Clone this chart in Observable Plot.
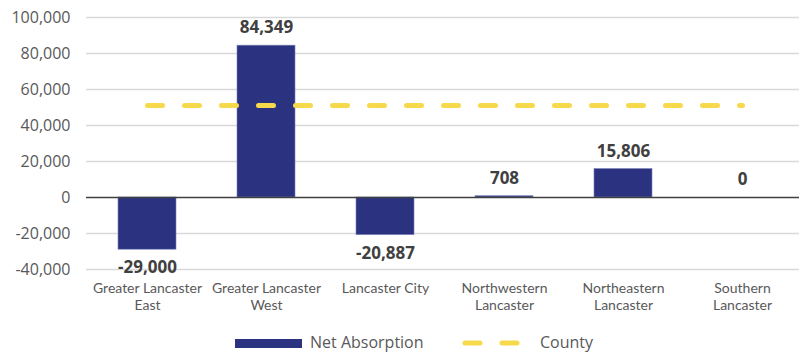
<!DOCTYPE html>
<html><head><meta charset="utf-8">
<script src="https://cdn.jsdelivr.net/npm/d3@7"></script>
<script src="https://cdn.jsdelivr.net/npm/@observablehq/plot@0.6"></script>
<style>
body{margin:0;background:#fff;font-family:"Open Sans",sans-serif;overflow:hidden;}
#chart svg{display:block;}
#legend{position:relative;height:27px;width:799px;color:#595959;font-size:16px;}
#legend .item{position:absolute;top:8px;line-height:16px;height:16px;}
</style></head><body><div id="chart"></div><div id="legend"></div>
<script>
const categories = ["Greater Lancaster\nEast", "Greater Lancaster\nWest", "Lancaster City", "Northwestern\nLancaster", "Northeastern\nLancaster", "Southern\nLancaster"];
const netAbsorption = [-29000, 84349, -20887, 708, 15806, 0];
const countyValue = 51100;
const yTicks = [-40000, -20000, 0, 20000, 40000, 60000, 80000, 100000];
const seriesNames = ["Net Absorption", "County"];

const navy = "#2B3381", yellow = "#F7D94C";
const data = categories.map((c, i) => ({category: c, value: netAbsorption[i], county: countyValue}));
const fmt = v => d3.format(",")(v).replace("\u2212", "-");

const chart = Plot.plot({
  width: 799, height: 326,
  marginTop: 17, marginBottom: 57, marginLeft: 86, marginRight: 0,
  style: {fontFamily: '"Open Sans", sans-serif', background: "#fff"},
  x: {domain: categories, range: [86, 803], paddingInner: 0.51, paddingOuter: 0.255, label: null},
  y: {domain: [-40000, 100000], label: null},
  marks: [
    Plot.ruleY(yTicks.filter(d => d !== 0), {stroke: "#d9d9d9", strokeWidth: 1.5}),
    Plot.axisY({ticks: yTicks, tickFormat: fmt, tickSize: 0, tickPadding: 16, fontSize: 16, color: "#595959", label: null}),
    Plot.axisX({tickSize: 0, tickPadding: 11, fontSize: 14, fontFamily: "Lato, sans-serif", color: "#595959", label: null, lineHeight: 1.22}),
    Plot.barY(data, {x: "category", y: "value", fill: navy, stroke: "#7a80b8", strokeWidth: 0.6}),
    Plot.ruleY([0], {stroke: "#404040", strokeWidth: 1.5}),
    Plot.lineY(data, {x: "category", y: "county", stroke: yellow, strokeWidth: 5, strokeDasharray: "15,22", strokeLinecap: "round"}),
    Plot.text(data, {x: "category", y: "value", text: d => fmt(d.value), fontSize: 17, fontWeight: "bold", fill: "#404040",
      filter: d => d.value >= 0, dy: -18}),
    Plot.text(data, {x: "category", y: "value", text: d => fmt(d.value), fontSize: 17, fontWeight: "bold", fill: "#404040",
      filter: d => d.value < 0, dy: 18})
  ]
});
document.getElementById("chart").appendChild(chart);

const legend = document.getElementById("legend");
legend.innerHTML = `
<svg style="position:absolute;left:235px;top:13px" width="68" height="10"><rect x="0" y="0" width="67" height="9" fill="${navy}"/></svg>
<div class="item" style="left:310px">${seriesNames[0]}</div>
<svg style="position:absolute;left:458px;top:11px" width="70" height="14"><line x1="7" x2="63" y1="6" y2="6" stroke="${yellow}" stroke-width="5" stroke-linecap="round" stroke-dasharray="15,22"/></svg>
<div class="item" style="left:540px">${seriesNames[1]}</div>`;
</script>
</body></html>
